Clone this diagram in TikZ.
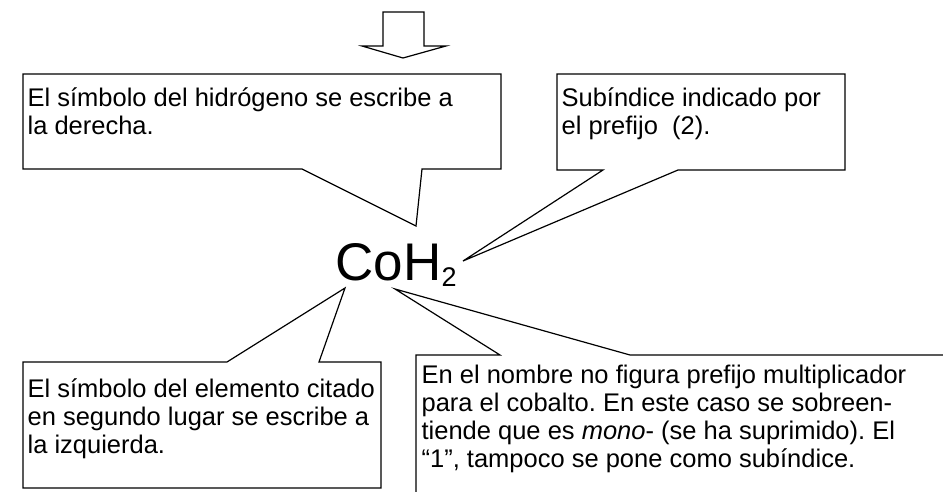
\documentclass[tikz,border=0pt]{standalone}
\usepackage{fontspec}
\setmainfont{Liberation Sans}
\frenchspacing

\begin{document}
\begin{tikzpicture}[x=1pt,y=-1pt,line width=1.2pt,
		callout text/.style={anchor=base west,inner sep=0pt,align=left,font=\fontsize{25.5}{28}\selectfont}]

			\useasboundingbox (0,0) rectangle (943,492);
			\clip (0,0) rectangle (943,492);

			% flecha
			\draw [-] (383,12) -- (424,12) -- (424,46) -- (446,46) -- (403,58) -- (362,46) -- (383,46) -- cycle;

			% globos
			\draw [-] (302,169) -- (23,169) -- (23,74) -- (501,74) -- (501,169) -- (422,169) -- (416,226) -- cycle;
			\draw [-] (603,170) -- (557,170) -- (557,74) -- (845,74) -- (845,170) -- (678,170) -- (463,261) -- cycle;
			\draw [-] (227,362) -- (23,362) -- (23,488) -- (381,488) -- (381,362) -- (319,362) -- (345,288) -- cycle;
			\draw [-] (416,500) -- (416,355) -- (500,355) -- (395,289) -- (630,355) -- (950,355);

			\node[anchor=base west,inner sep=0pt,font=\fontsize{53}{60}\selectfont] (formula) at (335,280) {CoH\raisebox{-6pt}{\fontsize{27}{30}\selectfont 2}};

			% base = ultima linea
			\node[callout text] (hidrogeno) at (27,135) {El símbolo del hidrógeno se escribe a\\la derecha.};
			\node[callout text] (subindice) at (561,135) {Subíndice indicado por\\el prefijo\ \ (2).};
			\node[callout text] (elemento) at (27,453) {El símbolo del elemento citado\\en segundo lugar se escribe a\\la izquierda.};
			\node[callout text] (prefijo) at (421,467) {En el nombre no figura prefijo multiplicador\\para el cobalto. En este caso se sobreen-\\tiende que es \textit{mono}- (se ha suprimido). El\\“1”, tampoco se pone como subíndice.};

	\end{tikzpicture}
\end{document}
